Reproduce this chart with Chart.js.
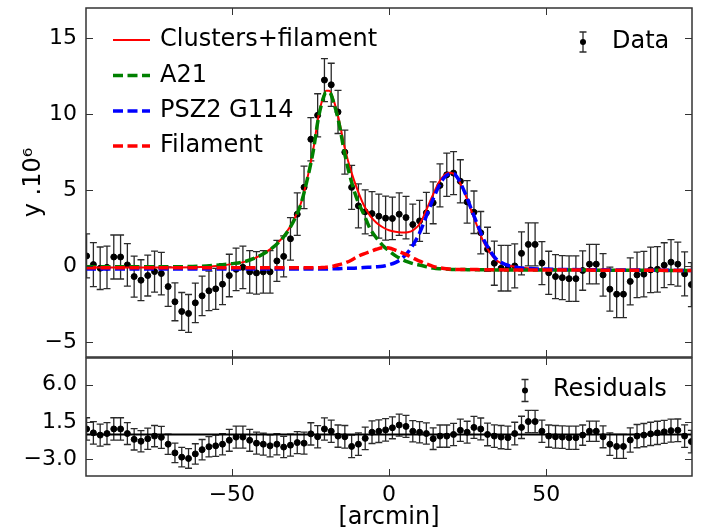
<!DOCTYPE html>
<html>
<head>
<meta charset="utf-8">
<script src="https://cdn.jsdelivr.net/npm/chart.js@4.4.0/dist/chart.umd.min.js"></script>
<style>
  body { margin: 0; background: #fff; }
  #wrap { position: relative; width: 705px; height: 532px; }
  #top { position: absolute; left: 0; top: 0; }
  #bot { position: absolute; left: 0; top: 350px; }
</style>
</head>
<body>
<div id="wrap">
  <canvas id="top" width="705" height="362"></canvas>
  <canvas id="bot" width="705" height="182"></canvas>
</div>
<script>
// ---- data (arcmin, y.10^6) ----
const dataX = [
  -96.21, -94.05, -91.89, -89.72, -87.56, -85.40, -83.24, -81.08, -78.91, -76.75,
  -74.59, -72.43, -70.27, -68.10, -65.94, -63.78, -61.62, -59.46, -57.29, -55.13,
  -52.97, -50.81, -48.65, -46.48, -44.32, -42.16, -40.00, -37.84, -35.67, -33.51,
  -31.35, -29.19, -27.03, -24.86, -22.70, -20.54, -18.38, -16.22, -14.05, -11.89,
  -9.73, -7.57, -5.41, -3.24, -1.08, 1.08, 3.24, 5.41, 7.57, 9.73,
  11.89, 14.05, 16.22, 18.38, 20.54, 22.70, 24.86, 27.03, 29.19, 31.35,
  33.51, 35.67, 37.84, 40.00, 42.16, 44.32, 46.48, 48.65, 50.81, 52.97,
  55.13, 57.29, 59.46, 61.62, 63.78, 65.94, 68.10, 70.27, 72.43, 74.59,
  76.75, 78.91, 81.08, 83.24, 85.40, 87.56, 89.72, 91.89, 94.05, 96.21
];
const dataY = [
  0.66, 0.09, -0.15, -0.09, 0.59, 0.59, 0.07, -0.70, -0.94, -0.63,
  -0.37, -0.50, -1.36, -2.36, -3.00, -3.13, -2.43, -1.97, -1.64, -1.51,
  -1.20, -0.63, -0.22, -0.09, -0.39, -0.46, -0.39, -0.39, 0.33, 0.63,
  1.79, 3.41, 5.18, 8.35, 9.93, 12.25, 11.94, 10.15, 7.50, 5.18,
  3.96, 3.57, 3.45, 3.28, 3.15, 3.13, 3.41, 3.19, 2.73, 2.97,
  3.50, 4.16, 5.31, 6.01, 6.12, 5.58, 4.22, 3.54, 2.19, 1.10,
  0.18, -0.15, -0.15, 0.00, 0.83, 1.42, 1.42, 0.19, -0.45, -0.70,
  -0.77, -0.84, -0.84, -0.30, 0.12, 0.12, -0.59, -1.53, -1.86, -1.86,
  -1.02, -0.59, -0.54, -0.26, -0.22, 0.05, 0.25, 0.12, -0.52, -1.23
];
const dataErr = [
  1.45, 1.45, 1.40, 1.40, 1.45, 1.45, 1.40, 1.35, 1.35, 1.35,
  1.35, 1.40, 1.30, 1.25, 1.25, 1.25, 1.30, 1.30, 1.30, 1.35,
  1.35, 1.40, 1.40, 1.40, 1.40, 1.40, 1.40, 1.40, 1.35, 1.35,
  1.40, 1.40, 1.40, 1.42, 1.42, 1.42, 1.42, 1.42, 1.45, 1.45,
  1.45, 1.45, 1.45, 1.45, 1.45, 1.40, 1.40, 1.40, 1.35, 1.35,
  1.35, 1.38, 1.42, 1.42, 1.42, 1.42, 1.40, 1.40, 1.40, 1.45,
  1.45, 1.50, 1.50, 1.45, 1.42, 1.42, 1.42, 1.42, 1.42, 1.45,
  1.45, 1.50, 1.50, 1.30, 1.30, 1.30, 1.40, 1.45, 1.55, 1.55,
  1.55, 1.50, 1.50, 1.50, 1.50, 1.48, 1.48, 1.45, 1.45, 1.45
];
const residY = [
  0.66, 0.19, -0.08, 0.11, 0.66, 0.66, 0.11, -0.59, -0.82, -0.51,
  -0.20, -0.35, -1.17, -2.22, -2.73, -2.89, -2.34, -1.83, -1.48, -1.37,
  -1.17, -0.70, -0.32, -0.32, -0.70, -1.05, -1.17, -1.37, -1.17, -1.52,
  -1.29, -0.98, -1.05, 0.07, -0.28, 0.66, 0.39, -0.20, -0.28, -1.44,
  -1.17, -0.47, 0.27, 0.39, 0.55, 0.80, 1.13, 0.97, 0.39, 0.27,
  0.11, -0.51, -0.20, -0.20, 0.00, 0.50, 0.27, 0.85, 0.66, 0.00,
  -0.20, -0.32, -0.39, 0.11, 0.85, 1.55, 1.55, 0.39, -0.20, -0.28,
  -0.32, -0.39, -0.39, -0.08, 0.39, 0.39, -0.28, -1.17, -1.44, -1.44,
  -0.67, -0.20, -0.08, 0.07, 0.19, 0.31, 0.46, 0.50, -0.20, -0.86
];
const residErr = [
  1.35, 1.35, 1.32, 1.32, 1.35, 1.35, 1.32, 1.28, 1.28, 1.28,
  1.28, 1.32, 1.22, 1.18, 1.18, 1.18, 1.22, 1.22, 1.22, 1.28,
  1.28, 1.32, 1.32, 1.32, 1.32, 1.32, 1.32, 1.32, 1.28, 1.28,
  1.32, 1.32, 1.32, 1.34, 1.34, 1.34, 1.34, 1.34, 1.36, 1.36,
  1.36, 1.36, 1.36, 1.36, 1.36, 1.32, 1.32, 1.32, 1.28, 1.28,
  1.28, 1.30, 1.34, 1.34, 1.34, 1.34, 1.32, 1.32, 1.32, 1.36,
  1.36, 1.40, 1.40, 1.36, 1.34, 1.34, 1.34, 1.34, 1.34, 1.36,
  1.36, 1.40, 1.40, 1.22, 1.22, 1.22, 1.32, 1.36, 1.45, 1.45,
  1.45, 1.40, 1.40, 1.40, 1.40, 1.38, 1.38, 1.36, 1.36, 1.36
];

// ---- model curves ----
const modelX = [
  -96.4, -80, -70, -60, -55, -50, -46, -42, -39, -36,
  -33, -30, -28, -26, -24, -22.5, -21, -20, -19, -17.5,
  -16, -14, -12, -10, -8, -6, -4, -2, 0, 2,
  4, 6, 8, 10, 12, 14, 16, 17.5, 19, 20.5,
  22, 24, 26, 28, 30, 32, 34, 37, 41, 46,
  55, 70, 85, 96.4
];
const totalY = [
  -0.10, -0.10, -0.10, -0.07, 0.00, 0.12, 0.27, 0.58, 0.93, 1.40,
  2.10, 3.15, 4.15, 5.75, 7.80, 9.80, 11.10, 11.55, 11.55, 10.85,
  9.70, 7.70, 6.20, 5.00, 4.00, 3.30, 2.85, 2.55, 2.35, 2.25,
  2.20, 2.22, 2.40, 2.85, 3.75, 4.70, 5.55, 5.97, 6.15, 6.08,
  5.70, 4.85, 3.75, 2.65, 1.62, 0.90, 0.40, 0.08, -0.08, -0.18,
  -0.23, -0.26, -0.28, -0.30
];
const a21Y = [
  -0.05, -0.05, -0.05, -0.02, 0.05, 0.15, 0.28, 0.58, 0.92, 1.38,
  2.05, 3.10, 4.10, 5.70, 7.70, 9.70, 11.00, 11.45, 11.45, 10.70,
  9.50, 7.30, 5.60, 4.30, 3.40, 2.45, 1.85, 1.35, 1.00, 0.68,
  0.45, 0.27, 0.13, 0.05, -0.05, -0.13, -0.18, -0.20, -0.22, -0.23,
  -0.24, -0.24, -0.25, -0.25, -0.25, -0.25, -0.26, -0.26, -0.26, -0.27,
  -0.27, -0.28, -0.29, -0.30
];
const psz2Y = [
  -0.20, -0.20, -0.20, -0.20, -0.20, -0.20, -0.20, -0.20, -0.20, -0.20,
  -0.20, -0.20, -0.20, -0.20, -0.20, -0.20, -0.20, -0.20, -0.19, -0.19,
  -0.18, -0.16, -0.15, -0.13, -0.10, -0.08, -0.06, -0.02, 0.08, 0.22,
  0.48, 0.90, 1.50, 2.30, 3.35, 4.40, 5.30, 5.80, 6.05, 6.08,
  5.75, 4.90, 3.85, 2.80, 1.80, 1.05, 0.48, 0.10, -0.10, -0.18,
  -0.23, -0.26, -0.28, -0.30
];
const filY = [
  -0.12, -0.12, -0.12, -0.12, -0.12, -0.12, -0.12, -0.12, -0.12, -0.12,
  -0.12, -0.12, -0.12, -0.12, -0.12, -0.12, -0.10, -0.08, -0.05, 0.00,
  0.08, 0.20, 0.38, 0.62, 0.80, 0.95, 1.10, 1.20, 1.18, 1.05,
  0.88, 0.70, 0.48, 0.30, 0.12, -0.03, -0.12, -0.17, -0.20, -0.22,
  -0.23, -0.23, -0.24, -0.24, -0.25, -0.25, -0.25, -0.26, -0.26, -0.27,
  -0.27, -0.28, -0.29, -0.30
];
const zeroX = [-96.4, 96.4];
const zeroY = [0, 0];

// ---- axes ----
const xMin = -96.4, xMax = 96.4;
const xTicks = [-50, 0, 50];
const topMin = -6, topMax = 17;
const topTicks = [-5, 0, 5, 10, 15];
const resMin = -5, resMax = 9.2;
const resTicks = [-3.0, 1.5, 6.0];

Chart.defaults.font.family = "'DejaVu Sans', sans-serif";
Chart.defaults.color = "#000";

function pts(xs, ys) {
  return xs.map((x, i) => ({x: x, y: ys[i]}));
}
function minus(s) { return String(s).replace("-", "\u2212"); }

const errorBars = {
  id: "errorBars",
  beforeDatasetsDraw(chart) {
    const {ctx, chartArea: a, scales} = chart;
    ctx.save();
    ctx.beginPath();
    ctx.rect(a.left, a.top, a.right - a.left, a.bottom - a.top);
    ctx.clip();
    ctx.strokeStyle = "#2a2a2a";
    ctx.lineWidth = 1.3;
    chart.data.datasets.forEach(ds => {
      if (!ds.errors) return;
      ds.data.forEach((p, i) => {
        const px = scales.x.getPixelForValue(p.x);
        const y1 = scales.y.getPixelForValue(p.y + ds.errors[i]);
        const y2 = scales.y.getPixelForValue(p.y - ds.errors[i]);
        ctx.beginPath();
        ctx.moveTo(px, y1); ctx.lineTo(px, y2);
        ctx.moveTo(px - 3.5, y1); ctx.lineTo(px + 3.5, y1);
        ctx.moveTo(px - 3.5, y2); ctx.lineTo(px + 3.5, y2);
        ctx.stroke();
      });
    });
    ctx.restore();
  }
};

const frame = {
  id: "frame",
  afterDraw(chart) {
    const {ctx, chartArea: a, scales} = chart;
    ctx.save();
    ctx.strokeStyle = "#333";
    ctx.lineWidth = 1.5;
    ctx.strokeRect(a.left, a.top, a.right - a.left, a.bottom - a.top);
    ctx.lineWidth = 1;
    ctx.beginPath();
    scales.x.ticks.forEach(t => {
      const px = Math.round(scales.x.getPixelForValue(t.value)) + 0.5;
      ctx.moveTo(px, a.bottom); ctx.lineTo(px, a.bottom - 7);
      ctx.moveTo(px, a.top); ctx.lineTo(px, a.top + 7);
    });
    scales.y.ticks.forEach(t => {
      const py = Math.round(scales.y.getPixelForValue(t.value)) + 0.5;
      ctx.moveTo(a.left, py); ctx.lineTo(a.left + 7, py);
      ctx.moveTo(a.right, py); ctx.lineTo(a.right - 7, py);
    });
    ctx.stroke();
    ctx.restore();
  }
};

function errMarker(ctx, x, y, h) {
  ctx.save();
  ctx.strokeStyle = "#2a2a2a";
  ctx.lineWidth = 1.3;
  ctx.beginPath();
  ctx.moveTo(x, y - h); ctx.lineTo(x, y + h);
  ctx.moveTo(x - 3.5, y - h); ctx.lineTo(x + 3.5, y - h);
  ctx.moveTo(x - 3.5, y + h); ctx.lineTo(x + 3.5, y + h);
  ctx.stroke();
  ctx.fillStyle = "#000";
  ctx.beginPath();
  ctx.arc(x, y, 3, 0, Math.PI * 2);
  ctx.fill();
  ctx.restore();
}

const topLegend = {
  id: "topLegend",
  afterDraw(chart) {
    const ctx = chart.ctx;
    const rows = [
      {label: "Clusters+filament", color: "#ff0000", dash: [], w: 2, y: 40},
      {label: "A21", color: "#008000", dash: [10, 4.5], w: 3.5, y: 75.5},
      {label: "PSZ2 G114", color: "#0000ff", dash: [10, 4.5], w: 3.5, y: 111},
      {label: "Filament", color: "#ff0000", dash: [10, 4.5], w: 3.5, y: 146}
    ];
    ctx.save();
    ctx.font = "24px 'DejaVu Sans'";
    ctx.textBaseline = "middle";
    rows.forEach(r => {
      ctx.strokeStyle = r.color;
      ctx.lineWidth = r.w;
      ctx.setLineDash(r.dash);
      ctx.beginPath();
      ctx.moveTo(113, r.y); ctx.lineTo(150, r.y);
      ctx.stroke();
      ctx.setLineDash([]);
      ctx.fillStyle = "#000";
      ctx.fillText(r.label, 160, r.y);
    });
    errMarker(ctx, 583, 42, 10);
    ctx.fillText("Data", 612, 42);
    ctx.restore();
  }
};

const resLegend = {
  id: "resLegend",
  afterDraw(chart) {
    const ctx = chart.ctx;
    ctx.save();
    errMarker(ctx, 525, 40.5, 11);
    ctx.font = "24px 'DejaVu Sans'";
    ctx.textBaseline = "middle";
    ctx.fillStyle = "#000";
    ctx.fillText("Residuals", 553, 40);
    ctx.restore();
  }
};

function lineSet(label, xs, ys, color, width, dash, order) {
  return {
    label: label,
    data: pts(xs, ys),
    showLine: true,
    borderColor: color,
    borderWidth: width,
    borderDash: dash,
    pointRadius: 0,
    cubicInterpolationMode: "monotone",
    order: order
  };
}

function noPadX(s, h) { s.height = h; s.paddingLeft = 0; s.paddingRight = 0; }
function noPadY(s) { s.width = 86; s.paddingTop = 0; s.paddingBottom = 0; }

// ---- top panel ----
new Chart(document.getElementById("top"), {
  type: "scatter",
  data: {
    datasets: [
      lineSet("Filament", modelX, filY, "#ff0000", 3.5, [10, 4.5], 0),
      lineSet("PSZ2 G114", modelX, psz2Y, "#0000ff", 3.5, [10, 4.5], 1),
      lineSet("A21", modelX, a21Y, "#008000", 3.5, [10, 4.5], 2),
      lineSet("Clusters+filament", modelX, totalY, "#ff0000", 2, [], 3),
      {
        label: "Data",
        data: pts(dataX, dataY),
        errors: dataErr,
        pointRadius: 3,
        pointBackgroundColor: "#000",
        pointBorderColor: "#000",
        showLine: false,
        order: 4
      }
    ]
  },
  options: {
    responsive: false,
    animation: false,
    layout: {padding: {left: 0, top: 8, right: 13, bottom: 4}},
    plugins: {legend: {display: false}, tooltip: {enabled: false}},
    scales: {
      x: {
        type: "linear", min: xMin, max: xMax,
        ticks: {display: false},
        grid: {display: false, drawTicks: false},
        border: {display: false},
        afterBuildTicks: s => { s.ticks = xTicks.map(v => ({value: v})); },
        afterFit: s => noPadX(s, 0)
      },
      y: {
        min: topMin, max: topMax,
        grid: {display: false, drawTicks: false},
        border: {display: false},
        ticks: {font: {size: 22}, padding: 9, callback: v => minus(v)},
        afterBuildTicks: s => { s.ticks = topTicks.map(v => ({value: v})); },
        afterFit: noPadY,
        title: {display: true, text: "y .10\u2076", font: {size: 24}, padding: {top: 19, bottom: 0}}
      }
    }
  },
  plugins: [errorBars, frame, topLegend]
});

// ---- residual panel ----
new Chart(document.getElementById("bot"), {
  type: "scatter",
  data: {
    datasets: [
      lineSet("zero", zeroX, zeroY, "#000", 2, [], 0),
      {
        label: "Residuals",
        data: pts(dataX, residY),
        errors: residErr,
        pointRadius: 3,
        pointBackgroundColor: "#000",
        pointBorderColor: "#000",
        showLine: false,
        order: 1
      }
    ]
  },
  options: {
    responsive: false,
    animation: false,
    layout: {padding: {left: 0, top: 8, right: 13, bottom: 0}},
    plugins: {legend: {display: false}, tooltip: {enabled: false}},
    scales: {
      x: {
        type: "linear", min: xMin, max: xMax,
        grid: {display: false, drawTicks: false},
        border: {display: false},
        ticks: {font: {size: 22}, padding: 6, callback: v => minus(v)},
        afterBuildTicks: s => { s.ticks = xTicks.map(v => ({value: v})); },
        afterFit: s => noPadX(s, 56),
        title: {display: true, text: "[arcmin]", font: {size: 24}, padding: {top: 0, bottom: 0}}
      },
      y: {
        min: resMin, max: resMax,
        grid: {display: false, drawTicks: false},
        border: {display: false},
        ticks: {font: {size: 22}, padding: 9, callback: v => minus(v.toFixed(1))},
        afterBuildTicks: s => { s.ticks = resTicks.map(v => ({value: v})); },
        afterFit: noPadY
      }
    }
  },
  plugins: [errorBars, frame, resLegend]
});
</script>
</body>
</html>
